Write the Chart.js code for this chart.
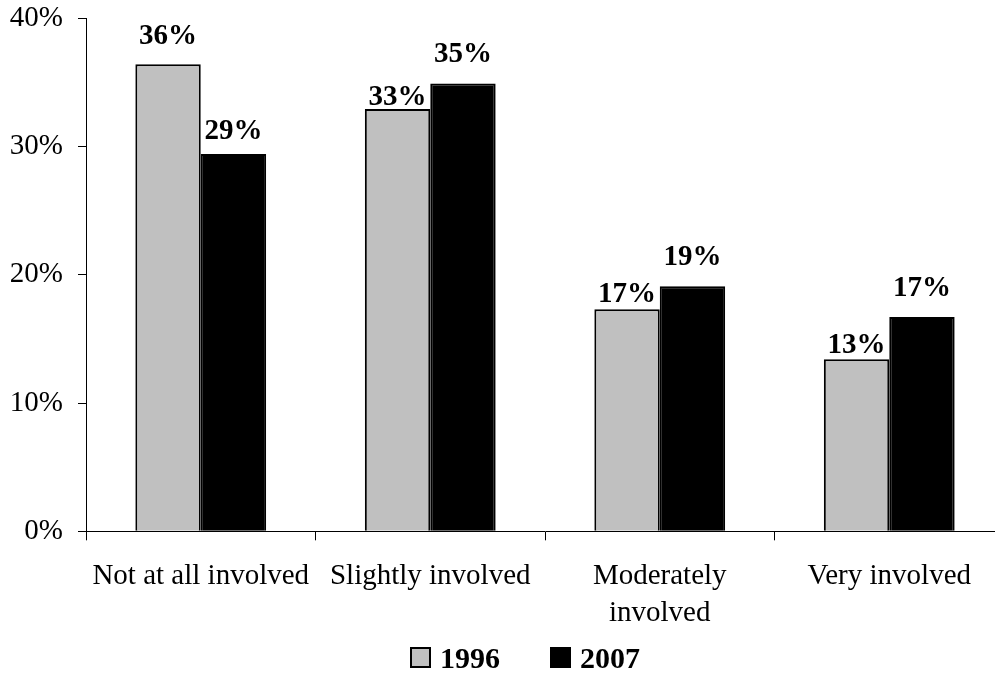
<!DOCTYPE html>
<html>
<head>
<meta charset="utf-8">
<script src="https://cdn.jsdelivr.net/npm/chart.js@4/dist/chart.umd.min.js"></script>
<style>
  html, body { margin: 0; padding: 0; background: #fff; overflow: hidden; }
  /* the original plot runs a bit past the right edge of the picture */
  #wrap { width: 1004px; height: 675px; }
</style>
</head>
<body>
<div id="wrap"><canvas id="myChart"></canvas></div>
<script>
const categories = [
  "Not at all involved",
  "Slightly involved",
  ["Moderately", "involved"],
  "Very involved",
];
const values1996 = [36.4, 32.9, 17.3, 13.4];
const values2007 = [29.4, 34.9, 19.1, 16.7];
const yTicks = [0, 10, 20, 30, 40];

const FONT = "'Liberation Serif', 'Times New Roman', serif";

// value labels above the bars, gap in px per dataset / point
const barLabels = {
  id: "barLabels",
  afterDatasetsDraw(chart, args, opts) {
    const ctx = chart.ctx;
    ctx.save();
    ctx.font = "bold 29px " + FONT;
    ctx.fillStyle = "#000";
    ctx.textAlign = "center";
    ctx.textBaseline = "alphabetic";
    chart.data.datasets.forEach((ds, i) => {
      const meta = chart.getDatasetMeta(i);
      meta.data.forEach((bar, j) => {
        const off = opts.offsets[i][j];
        ctx.fillText(Math.round(ds.data[j]) + "%", bar.x, bar.y - off);
      });
    });
    ctx.restore();
  },
};

// simple legend at the bottom, like the excel one
const bottomLegend = {
  id: "bottomLegend",
  afterDraw(chart, args, opts) {
    const ctx = chart.ctx;
    ctx.save();
    ctx.font = "bold 30px " + FONT;
    ctx.textBaseline = "alphabetic";
    ctx.textAlign = "left";
    chart.data.datasets.forEach((ds, i) => {
      const x = opts.x[i];
      const y = opts.y;
      ctx.fillStyle = ds.backgroundColor;
      ctx.fillRect(x, y, opts.box, opts.box);
      ctx.strokeStyle = "#000";
      ctx.lineWidth = 2;
      ctx.strokeRect(x + 1, y + 1, opts.box - 2, opts.box - 2);
      ctx.fillStyle = "#000";
      ctx.fillText(ds.label, x + opts.box + opts.gap, y + opts.box);
    });
    ctx.restore();
  },
};

const ctx = document.getElementById("myChart");
const myChart = new Chart(ctx, {
  type: "bar",
  data: {
    labels: categories,
    datasets: [
      {
        label: "1996",
        data: values1996,
        backgroundColor: "#c0c0c0",
        borderColor: "#000",
        borderWidth: 2,
        categoryPercentage: 0.57,
        barPercentage: 1,
      },
      {
        label: "2007",
        data: values2007,
        backgroundColor: "#000",
        borderColor: "#000",
        borderWidth: 2,
        categoryPercentage: 0.57,
        barPercentage: 1,
      },
    ],
  },
  options: {
    responsive: true,
    maintainAspectRatio: false,
    animation: false,
    layout: { padding: { top: 18, right: 0, left: 10, bottom: 25 } },
    plugins: {
      legend: { display: false },
      tooltip: { enabled: false },
      barLabels: {
        offsets: [
          [20, 4, 7, 6],
          [15, 21, 21, 21],
        ],
      },
      bottomLegend: { x: [410, 550], y: 647, box: 21, gap: 9 },
    },
    scales: {
      x: {
        // don't let the outer labels push the plot inwards
        afterFit: (s) => {
          s.paddingLeft = 0;
          s.paddingRight = 0;
        },
        grid: {
          display: true,
          drawOnChartArea: false,
          offset: true,
          tickLength: 9,
          color: "#000",
        },
        border: { display: true, color: "#000", width: 1 },
        ticks: {
          font: { family: FONT, size: 29, lineHeight: 1.27 },
          color: "#000",
          padding: 18,
          maxRotation: 0,
          autoSkip: false,
        },
      },
      y: {
        min: 0,
        max: 40,
        afterBuildTicks: (axis) => {
          axis.ticks = yTicks.map((v) => ({ value: v }));
        },
        afterFit: (s) => {
          s.paddingTop = 0;
          s.paddingBottom = 0;
          s.width = 76;
        },
        grid: {
          display: true,
          drawOnChartArea: false,
          tickLength: 8,
          color: "#000",
        },
        border: { display: true, color: "#000", width: 1 },
        ticks: {
          font: { family: FONT, size: 29 },
          color: "#000",
          padding: 15,
          callback: (v) => v + "%",
        },
      },
    },
  },
  plugins: [barLabels, bottomLegend],
});
</script>
</body>
</html>
